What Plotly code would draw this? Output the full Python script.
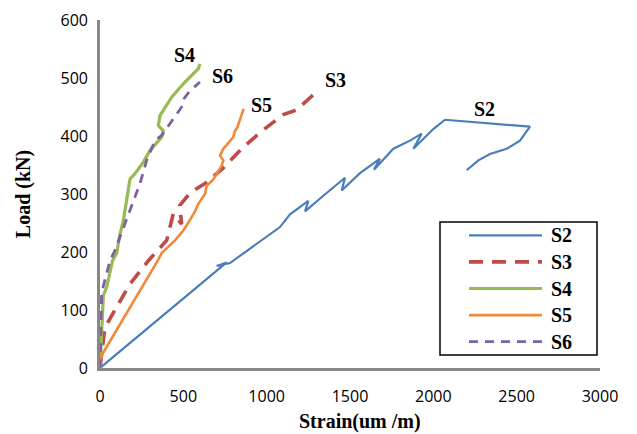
import plotly.graph_objects as go

# ---- data (strain in um/m, load in kN) ----
series_names = ["S2", "S3", "S4", "S5", "S6"]

s2_strain = [0, 760, 700, 780, 1080, 1140, 1250, 1230, 1340, 1470, 1450, 1560, 1680, 1644, 1760, 1860, 1930, 1880, 2000, 2070, 2580, 2520, 2440, 2340, 2270, 2200]
s2_load = [0, 182, 176, 181, 243, 265, 288, 270, 297, 328, 306, 336, 361, 342, 378, 392, 404, 378, 412, 428, 416, 392, 378, 369, 358, 341]

s3_strain = [0, 25, 40, 90, 180, 290, 400, 440, 490, 478, 540, 630, 740, 850, 960, 1100, 1180, 1260, 1300]
s3_load = [0, 60, 75, 100, 145, 185, 220, 266, 248, 280, 302, 318, 345, 378, 406, 437, 445, 466, 476]

s4_strain = [0, 10, 20, 40, 60, 75, 100, 120, 140, 160, 170, 180, 210, 260, 300, 370, 380, 350, 360, 430, 500, 560, 590, 600]
s4_load = [0, 70, 125, 139, 165, 185, 198, 231, 254, 289, 306, 326, 335, 355, 375, 398, 409, 418, 435, 467, 490, 507, 516, 524]

s5_strain = [0, 10, 340, 370, 450, 500, 520, 570, 590, 630, 640, 680, 730, 740, 720, 740, 800, 810, 824, 862]
s5_load = [0, 22, 182, 198, 220, 237, 246, 270, 283, 300, 314, 325, 349, 358, 366, 378, 398, 409, 415, 447]

s6_strain = [0, 5, 10, 50, 60, 90, 150, 190, 240, 280, 330, 370, 440, 490, 505, 540, 600]
s6_load = [0, 60, 130, 174, 185, 203, 249, 280, 318, 358, 392, 401, 430, 450, 465, 478, 493]

x_ticks = [0, 500, 1000, 1500, 2000, 2500, 3000]
y_ticks = [0, 100, 200, 300, 400, 500, 600]

x_title = "Strain(um /m)"
y_title = "Load (kN)"

# ---- styles ----
colors = ["#4A7EBB", "#BE4B48", "#98B954", "#F08A3A", "#7D60A0"]
widths = [2.2, 3.6, 3.2, 2.6, 2.8]
dashes = ["solid", "14px,9px", "solid", "solid", "9px,7px"]
label_pos = {"S2": (2304, 446), "S3": (1410, 496), "S4": (505, 540), "S5": (966, 453), "S6": (735, 504)}

xs = [s2_strain, s3_strain, s4_strain, s5_strain, s6_strain]
ys = [s2_load, s3_load, s4_load, s5_load, s6_load]

fig = go.Figure()
for name, x, y, c, w, d in zip(series_names, xs, ys, colors, widths, dashes):
    fig.add_trace(go.Scatter(x=x, y=y, mode="lines", name=name,
                             line=dict(color=c, width=w, dash=d), showlegend=False))

serif = "Liberation Serif, Times New Roman, serif"

annotations = []
for name in series_names:
    lx, ly = label_pos[name]
    annotations.append(dict(x=lx, y=ly, xref="x", yref="y", text="<b>%s</b>" % name,
                            showarrow=False, font=dict(family=serif, size=20, color="black")))

# page has an 8px body margin: figure is offset by (8, 8)
OFF = 8
FW, FH = 637 - OFF, 434 - OFF
pl, pt, pw, ph = 100, 20, 500, 348   # plot area in window pixels

def px2paper(px, py):
    return (px - pl) / pw, (pt + ph - py) / ph

# x-axis title as annotation (slightly right of centre, as in the reference)
tx_, ty_ = px2paper(360, 421)
annotations.append(dict(x=tx_, y=ty_, xref="paper", yref="paper", text="<b>%s</b>" % x_title,
                        showarrow=False, xanchor="center", yanchor="middle",
                        font=dict(family=serif, size=20, color="black")))

# ---- manual legend (paper coords) ----
L, R, T, B = 440, 597, 222, 355  # pixel box (window pixels)
shapes = []
x0, y0 = px2paper(L, B)
x1, y1 = px2paper(R, T)
shapes.append(dict(type="rect", xref="paper", yref="paper", x0=x0, y0=y0, x1=x1, y1=y1,
                   line=dict(color="black", width=1.5), fillcolor="white", layer="below"))
row_h = (B - T) / len(series_names)
for i, (name, c, w, d) in enumerate(zip(series_names, colors, widths, dashes)):
    cy = T + row_h * (i + 0.5)
    ax0, ay = px2paper(469, cy)
    ax1, _ = px2paper(542, cy)
    shapes.append(dict(type="line", xref="paper", yref="paper", x0=ax0, y0=ay, x1=ax1, y1=ay,
                       line=dict(color=c, width=w, dash=d)))
    tx, _ = px2paper(549, cy)
    annotations.append(dict(x=tx, y=ay, xref="paper", yref="paper", text="<b>%s</b>" % name,
                            showarrow=False, xanchor="left", yanchor="middle",
                            font=dict(family=serif, size=20, color="black")))

axis_color = "#878787"
fig.update_layout(
    width=FW, height=FH,
    margin=dict(l=pl - OFF, r=FW - (pl - OFF) - pw, t=pt - OFF, b=FH - (pt - OFF) - ph, autoexpand=False),
    paper_bgcolor="white", plot_bgcolor="white",
    shapes=shapes, annotations=annotations,
    xaxis=dict(range=[0, 3000], tickvals=x_ticks, ticktext=[str(v) for v in x_ticks],
               showgrid=False, zeroline=False, showline=True, linecolor=axis_color, linewidth=2.6,
               ticks="", ticklabelstandoff=12, automargin=False,
               tickfont=dict(family="Open Sans, sans-serif", size=16, color="black")),
    yaxis=dict(range=[0, 600], tickvals=y_ticks, ticktext=[str(v) for v in y_ticks],
               showgrid=False, zeroline=False, showline=True, linecolor=axis_color, linewidth=2.6,
               ticks="", ticklabelstandoff=6, automargin=False,
               tickfont=dict(family="Open Sans, sans-serif", size=16, color="black"),
               title=dict(text="<b>%s</b>" % y_title, standoff=25,
                          font=dict(family=serif, size=20, color="black"))),
)

fig.write_html("out.html")
